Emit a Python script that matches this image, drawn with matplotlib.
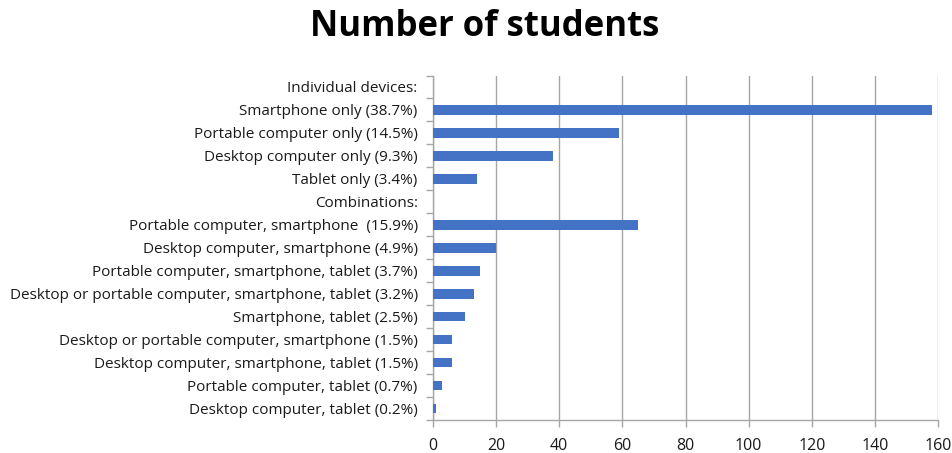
import matplotlib
matplotlib.use("Agg")
import matplotlib.pyplot as plt
import numpy as np

plt.rcParams['font.family'] = ['Open Sans', 'DejaVu Sans']

categories = [
    "Individual devices:",
    "Smartphone only (38.7%)",
    "Portable computer only (14.5%)",
    "Desktop computer only (9.3%)",
    "Tablet only (3.4%)",
    "Combinations:",
    "Portable computer, smartphone  (15.9%)",
    "Desktop computer, smartphone (4.9%)",
    "Portable computer, smartphone, tablet (3.7%)",
    "Desktop or portable computer, smartphone, tablet (3.2%)",
    "Smartphone, tablet (2.5%)",
    "Desktop or portable computer, smartphone (1.5%)",
    "Desktop computer, smartphone, tablet (1.5%)",
    "Portable computer, tablet (0.7%)",
    "Desktop computer, tablet (0.2%)",
]
values = [0, 158, 59, 38, 14, 0, 65, 20, 15, 13, 10, 6, 6, 3, 1]
xticks = [0, 20, 40, 60, 80, 100, 120, 140, 160]

fig = plt.figure(figsize=(9.52, 4.53), dpi=100)
ax = fig.add_axes([433/952, 1-420/453, (938-433)/952, (420-75.5)/453])

y = np.arange(len(categories))
ax.barh(y, values, height=0.42, color='#4472C4', zorder=3)
ax.set_ylim(len(categories)-0.5, -0.5)
ax.set_xlim(0, 160)
ax.set_xticks(xticks)
ax.set_yticks(y)
ax.set_yticklabels(categories)
ax.set_yticks(np.arange(-0.5, len(categories)), minor=True)

grid_c = '#A6A6A6'
ax.grid(axis='x', color=grid_c, linewidth=1, zorder=0)
for s in ['top', 'right']:
    ax.spines[s].set_visible(False)
for s in ['left', 'bottom']:
    ax.spines[s].set_color(grid_c)
    ax.spines[s].set_linewidth(1)

ax.tick_params(axis='y', which='major', length=0, pad=11, labelsize=11, labelcolor='#1a1a1a')
ax.tick_params(axis='y', which='minor', length=5, color=grid_c, width=1)
ax.tick_params(axis='x', which='major', length=5, color=grid_c, width=1, labelsize=11.5, labelcolor='#1a1a1a', pad=8)

fig.text(485/952, 1-27/453, "Number of students", ha='center', va='center',
         fontsize=25, fontweight='bold', color='black')

fig.savefig("out.png", dpi=100)
